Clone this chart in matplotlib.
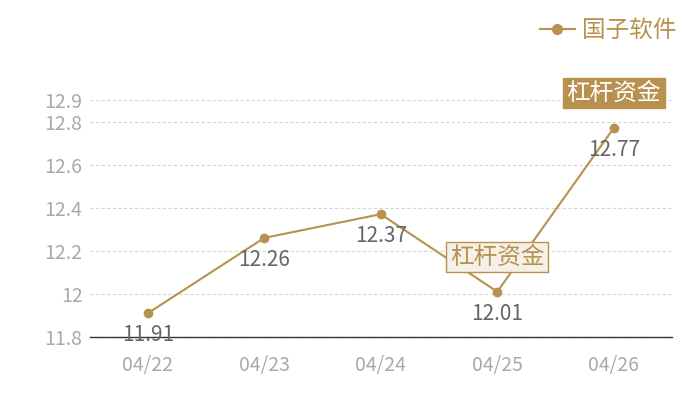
import matplotlib
matplotlib.use('Agg')
import matplotlib.pyplot as plt
from matplotlib.lines import Line2D

plt.rcParams['font.family'] = ['Noto Sans CJK SC', 'DejaVu Sans']

dates = ['04/22', '04/23', '04/24', '04/25', '04/26']
values = [11.91, 12.26, 12.37, 12.01, 12.77]
yticks = [11.8, 12, 12.2, 12.4, 12.6, 12.8, 12.9]
ytick_labels = ['11.8', '12', '12.2', '12.4', '12.6', '12.8', '12.9']
series_name = '国子软件'
mark_text = '杠杆资金'
mark_idx = [3, 4]

gold = '#b8914f'

fig = plt.figure(figsize=(7, 4), dpi=100)
ax = fig.add_axes([89.5 / 700, 63 / 400, 582.5 / 700, 237 / 400])

x = list(range(len(dates)))
ax.plot(x, values, color=gold, lw=1.5, marker='o', ms=6, zorder=3)
ax.set_xlim(-0.5, len(dates) - 0.5)
ax.set_ylim(11.8, 12.9)
ax.set_yticks(yticks)
ax.set_yticklabels(ytick_labels)
ax.set_xticks(x)
ax.set_xticklabels(dates)
ax.tick_params(axis='both', length=0, colors='#aaaaaa', labelsize=14)
ax.tick_params(axis='x', pad=13)
ax.tick_params(axis='y', pad=5)
for s in ['top', 'right', 'left']:
    ax.spines[s].set_visible(False)
ax.spines['bottom'].set_color('#333333')
ax.spines['bottom'].set_linewidth(1)
ax.grid(axis='y', color='#d5d5d5', ls=(0, (3, 2)), lw=0.8)
ax.set_axisbelow(True)

for xi, v in zip(x, values):
    ax.annotate(f'{v:g}', (xi, v), xytext=(0, -8), textcoords='offset points',
                ha='center', va='top', color='#666666', fontsize=15)

for i in mark_idx:
    if i == len(values) - 1:
        box = dict(boxstyle='square,pad=0.15', fc=gold, ec=gold)
        tc = 'white'
    else:
        box = dict(boxstyle='square,pad=0.15', fc='#f5f0e8', ec=gold, lw=1)
        tc = gold
    ax.annotate(mark_text, (i, values[i]), xytext=(0, 25), textcoords='offset points',
                ha='center', va='center', color=tc, fontsize=17, bbox=box,
                annotation_clip=False, zorder=5)

handle = Line2D([], [], color=gold, lw=1.5, marker='o', ms=7)
fig.legend([handle], [series_name], loc='upper right', bbox_to_anchor=(0.997, 1.005),
           frameon=False, fontsize=17, labelcolor=gold, handlelength=1.5,
           handletextpad=0.3)

fig.savefig('out.png', dpi=100)
